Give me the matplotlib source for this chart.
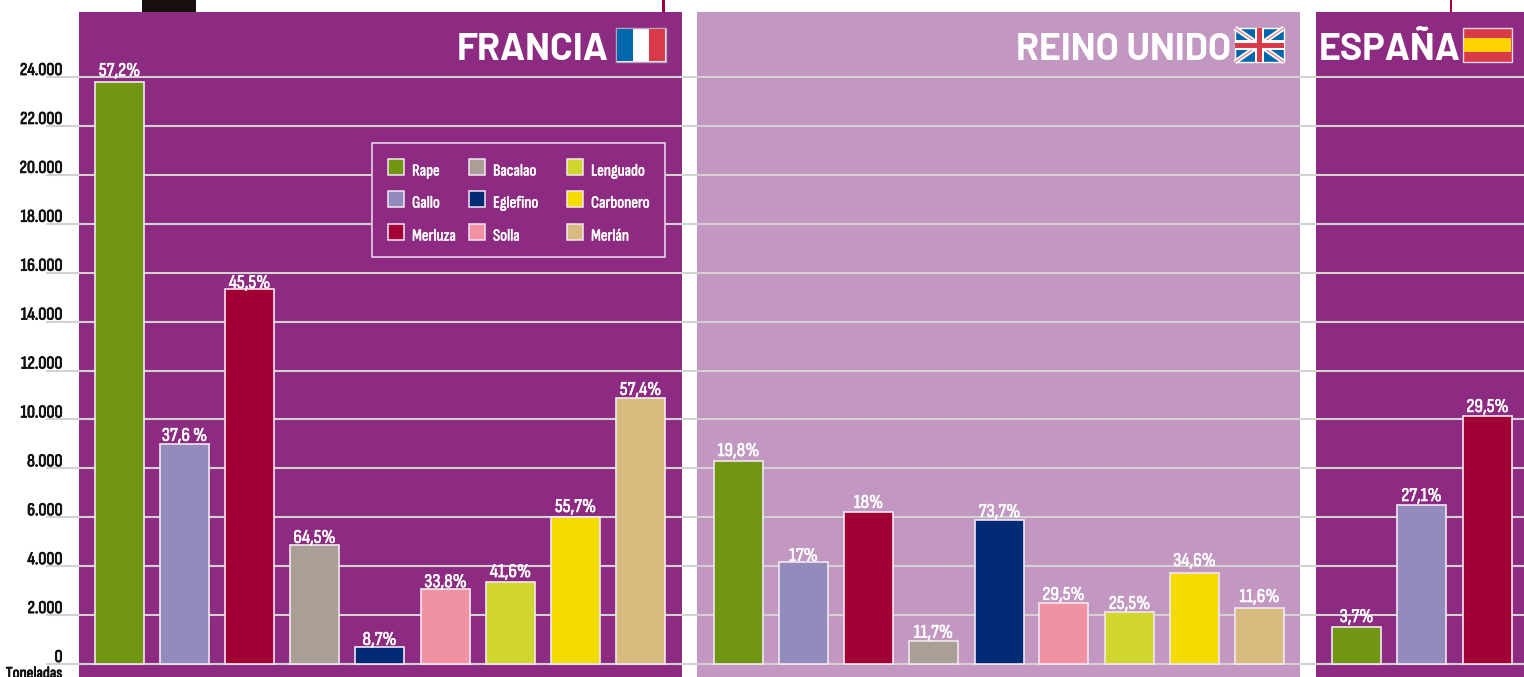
import matplotlib
matplotlib.use("Agg")
import logging
import matplotlib.pyplot as plt
import matplotlib.patheffects as pe
from matplotlib.patches import Rectangle

logging.getLogger("matplotlib.font_manager").setLevel(logging.ERROR)

# ---------------- DATA ----------------
especies = ["Rape", "Gallo", "Merluza", "Bacalao", "Eglefino", "Solla", "Lenguado", "Carbonero", "Merlán"]
colores = ["#719614", "#938bbb", "#a20035", "#a99f96", "#022a75", "#f092a2", "#d0d62e", "#f3da00", "#d7bb7f"]

francia = [23800, 9000, 15330, 4870, 700, 3060, 3350, 6010, 10880]
reino_unido = [8300, 4170, 6220, 950, 5890, 2500, 2130, 3720, 2290]
espana = [1510, 6500, 10140]

francia_pct = ["57,2%", "37,6 %", "45,5%", "64,5%", "8,7%", "33,8%", "41,6%", "55,7%", "57,4%"]
reino_unido_pct = ["19,8%", "17%", "18%", "11,7%", "73,7%", "29,5%", "25,5%", "34,6%", "11,6%"]
espana_pct = ["3,7%", "27,1%", "29,5%"]

ticks = list(range(0, 24001, 2000))
tick_labels = ["0", "2.000", "4.000", "6.000", "8.000", "10.000", "12.000",
               "14.000", "16.000", "18.000", "20.000", "22.000", "24.000"]

# ---------------- LAYOUT (pixels) ----------------
W, H = 1524, 677
Y0, PX_POR_T = 664, 587 / 24000
PURPURA, LILA, GRIS, BORDE = "#8d2a82", "#c297c2", "#d2d2d2", "#f1e8f1"
NARROW = ["Sofia Sans Condensed", "Liberation Sans"]
TITULO = ["Barlow", "Roboto"]


def val(py):
    return (Y0 - py) / PX_POR_T


def grueso(color, w=0.4):
    # the condensed face only comes in one weight, thicken it a little
    return [pe.withStroke(linewidth=w, foreground=color)]


fig = plt.figure(figsize=(W / 100, H / 100), dpi=100)
ax = fig.add_axes([0, 0, 1, 1])
ax.set_xlim(0, W)
ax.set_ylim(val(H), val(0))
ax.axis("off")


def px_w(x, y, w, h, **kw):
    # rectangle given in pixels from the top left
    ax.add_patch(Rectangle((x, val(y + h)), w, h / PX_POR_T, **kw))


# ---------------- PANELS ----------------
px_w(79, 12, 603, H - 12, fc=PURPURA, ec="none", zorder=1)
px_w(697, 12, 603, H - 12, fc=LILA, ec="none", zorder=1)
px_w(1316, 12, 208, H - 12, fc=PURPURA, ec="none", zorder=1)

# bits of the photo and leader lines cut off above the chart
px_w(142, 0, 54, 12, fc="#17100f", ec="none", zorder=1)
px_w(662, 0, 2.5, 12, fc="#a20035", ec="none", zorder=1)
px_w(1449.5, 0, 2.5, 12, fc="#a20035", ec="none", zorder=1)

# ---------------- GRID + Y LABELS ----------------
ax.hlines(ticks, 46, W, color=GRIS, lw=1.5, zorder=2)
for t, lab in zip(ticks, tick_labels):
    ax.text(62.5, t + 2 / PX_POR_T, lab, ha="right", va="baseline", fontsize=13,
            family=NARROW, color="#111111", zorder=5, path_effects=grueso("#111111", 0.6))
ax.text(34, val(678), "Toneladas", ha="center", va="baseline", fontsize=12,
        family=NARROW, color="#111111", zorder=5, path_effects=grueso("#111111", 0.6))


# ---------------- BARS ----------------
def barras(lefts, values, labels, gaps, cols):
    centers = [x + 24.5 for x in lefts]
    ax.bar(centers, values, width=49, color=cols, edgecolor=BORDE, linewidth=1.2, zorder=3)
    for c, v, lab, g in zip(centers, values, labels, gaps):
        ax.text(c, v + g / PX_POR_T, lab, ha="center", va="baseline", fontsize=14,
                family=NARROW, color="white", zorder=5, path_effects=grueso("white"))


barras([95, 160, 225, 290, 355, 421, 486, 551, 616], francia, francia_pct,
       [6, 3, 1, 2, 2, 2, 5, 5, 3], colores)
barras([714, 779, 844, 909, 975, 1039, 1105, 1170, 1235], reino_unido, reino_unido_pct,
       [5, 1, 4, 3, 3, 3, 3, 7, 6], colores)
barras([1332, 1397, 1463], espana, espana_pct, [5, 4, 4], colores[:3])

# ---------------- TITLES ----------------
for x, t in [(609, "FRANCIA"), (1231, "REINO UNIDO"), (1461, "ESPAÑA")]:
    ax.text(x, val(60.5), t, ha="right", va="baseline", fontsize=27, fontweight="bold",
            family=TITULO, color="white", zorder=5)

# ---------------- FLAGS ----------------
# France
px_w(616, 28, 50, 34, fc="white", ec="#b9a3bb", lw=1, zorder=4)
px_w(617, 29, 16, 32, fc="#0067ac", ec="none", zorder=4)
px_w(649, 29, 16, 32, fc="#d83a48", ec="none", zorder=4)

# UK
fx, fy, fw, fh = 1235, 28, 49, 34
px_w(fx, fy, fw, fh, fc="#0067ac", ec="white", lw=1, zorder=4)
for (a, b) in [((fx, fy), (fx + fw, fy + fh)), ((fx, fy + fh), (fx + fw, fy))]:
    ax.plot([a[0], b[0]], [val(a[1]), val(b[1])], color="white", lw=3.5, zorder=4, solid_capstyle="butt")
    ax.plot([a[0], b[0]], [val(a[1]), val(b[1])], color="#e58a94", lw=1, zorder=4, solid_capstyle="butt")
px_w(fx + 20, fy, 9, fh, fc="white", ec="none", zorder=4)
px_w(fx, fy + 12, fw, 10, fc="white", ec="none", zorder=4)
px_w(fx + 22, fy, 5, fh, fc="#d83a48", ec="none", zorder=4)
px_w(fx, fy + 15, fw, 5, fc="#d83a48", ec="none", zorder=4)

# Spain
px_w(1463, 28, 49, 34, fc="#d83a48", ec="#e8d5e6", lw=1, zorder=4)
px_w(1464, 38, 47, 14, fc="#ffd200", ec="none", zorder=4)

# ---------------- LEGEND ----------------
px_w(372, 143, 293, 114, fc=PURPURA, ec="#dcc4dc", lw=1.3, zorder=4)
col_x = [388, 469, 567]
fila_y = [159, 191, 224]
for i, (nombre, c) in enumerate(zip(especies, colores)):
    x, y = col_x[i // 3], fila_y[i % 3]
    px_w(x, y, 16, 16, fc=c, ec=BORDE, lw=1.1, zorder=5)
    ax.text(x + 24, val(y + 16.5), nombre, ha="left", va="baseline", fontsize=12,
            family=NARROW, color="white", zorder=5, path_effects=grueso("white"))

fig.savefig("out.png", dpi=100)
